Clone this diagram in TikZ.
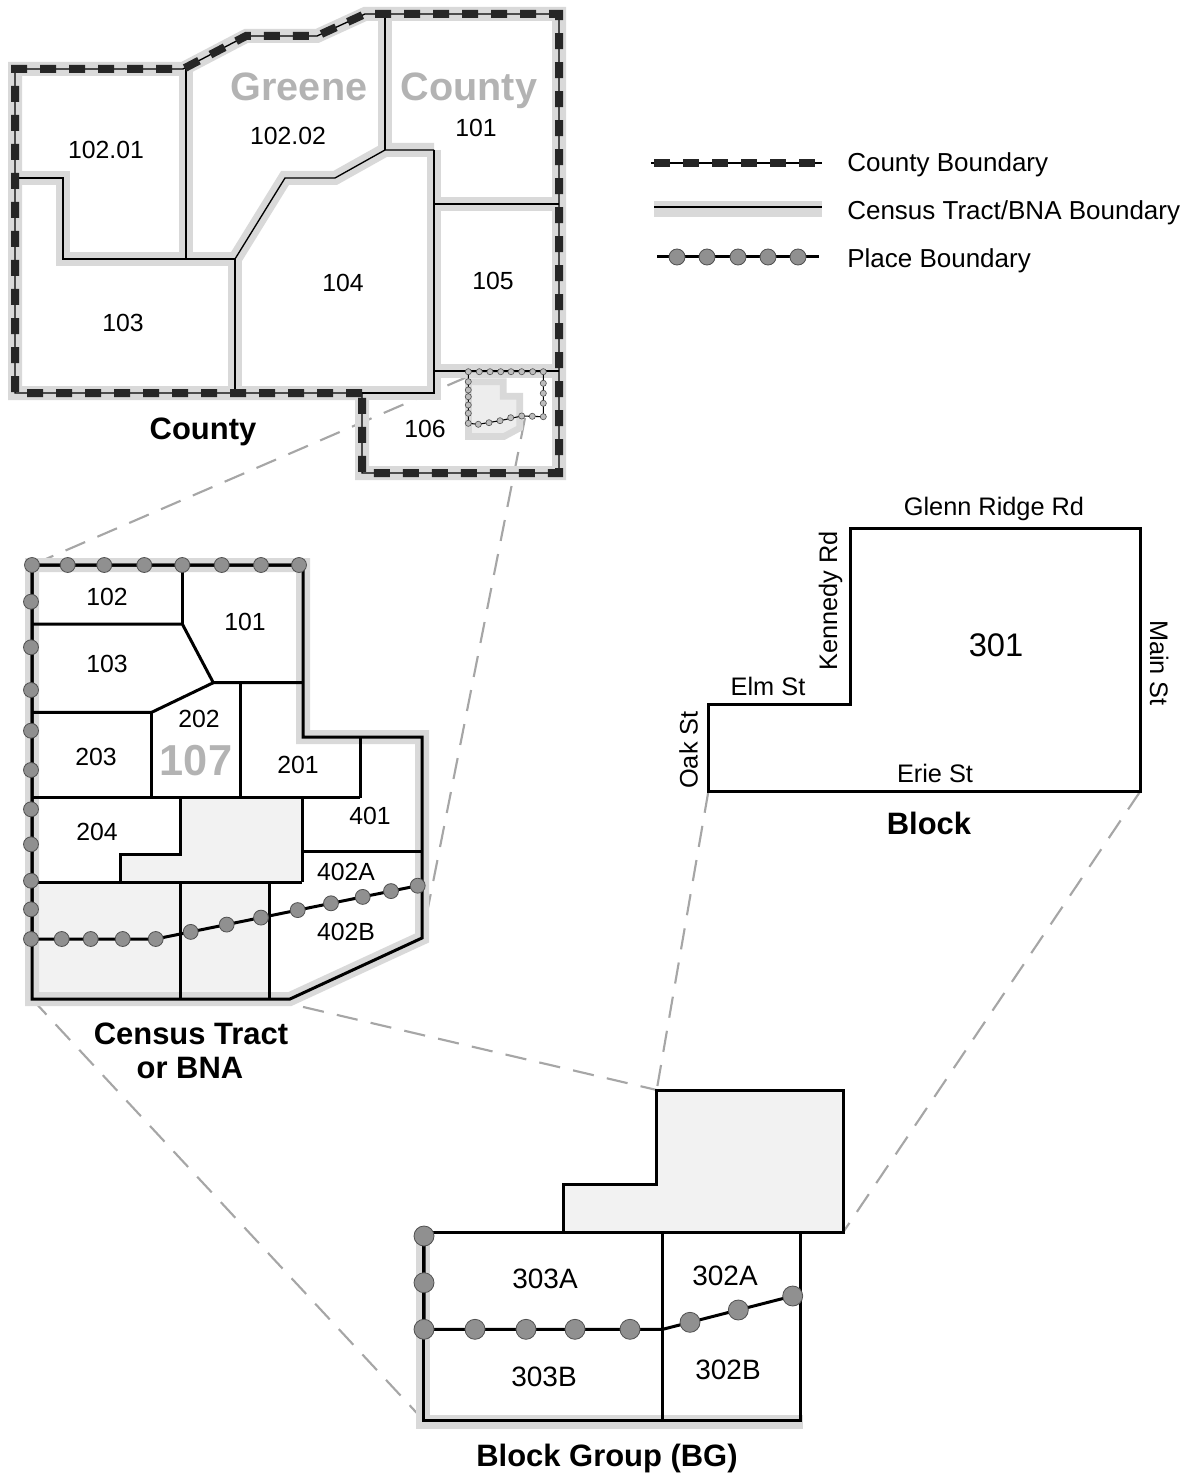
\documentclass[tikz,border=0pt]{standalone}
\usepackage{fontspec}
\setmainfont{Liberation Sans}
\definecolor{bandgray}{HTML}{D9D9D9}
\definecolor{lightfill}{HTML}{F2F2F2}
\definecolor{lfill}{HTML}{EDEDED}
\definecolor{titlegray}{HTML}{B3B3B3}
\definecolor{zoomgray}{HTML}{A6A6A6}
\definecolor{cdashcol}{HTML}{262626}
\definecolor{dotgray}{HTML}{909090}
\definecolor{dotedge}{HTML}{505050}
\definecolor{sdotgray}{HTML}{BDBDBD}
\newcommand\setfs[1]{\fontsize{#1}{#1}\selectfont}
\tikzset{
  band/.style={draw=bandgray, line width=10.5pt, line join=miter},
  thinb/.style={draw=black, line width=1pt},
  thickb/.style={draw=black, line width=2.25pt},
  cdash/.style={draw=cdashcol, line width=6pt, dash pattern=on 12pt off 9.75pt},
  zoomline/.style={draw=zoomgray, line width=1.6pt, dash pattern=on 16pt off 10pt},
  pdot/.style={fill=dotgray, draw=dotedge, line width=0.6pt},
  sdot/.style={fill=sdotgray, draw=dotedge, line width=0.45pt},
  lbl/.style={inner sep=0pt, font=\setfs{18.6}},
  bglbl/.style={inner sep=0pt, font=\setfs{21}},
  street/.style={inner sep=0pt, font=\setfs{19}},
  bigl/.style={inner sep=0pt, font=\bfseries\setfs{23.2}},
  gtitle/.style={inner sep=0pt, text=titlegray, font=\bfseries\setfs{29.7}},
  legl/.style={inner sep=0pt, anchor=base west, font=\setfs{19.5}}
}
\begin{document}
\begin{tikzpicture}[x=0.75pt,y=-0.75pt]
\useasboundingbox (0,0) rectangle (1195,1476);

% ---------- named end points of the zoom connectors ----------
\coordinate (cplA) at (467,377);
\coordinate (cplB) at (525,418);
\coordinate (trTL) at (32,565);
\coordinate (trR) at (422,938);
\coordinate (trBL) at (32,999);
\coordinate (trBR) at (269.3,999);
\coordinate (bgBL) at (423.3,1420);
\coordinate (bgTL) at (656.7,1090);
\coordinate (bgR) at (843.3,1232);
\coordinate (blBL) at (708.3,791.7);
\coordinate (blBR) at (1140,791.7);

\draw[zoomline] (cplA) -- (trTL);
\draw[zoomline] (cplB) -- (trR);
\draw[zoomline] (trBL) -- (bgBL);
\draw[zoomline] (trBR) -- (bgTL);
\draw[zoomline] (blBL) -- (bgTL);
\draw[zoomline] (blBR) -- (bgR);

% ================= COUNTY =================
\draw[band] (362,393) -- (15,393) -- (15,69) -- (183,69) -- (246,36) -- (317,36) -- (365,14) -- (559,14) -- (559,473) -- (362,473) -- cycle;
\draw[band] (15,178) -- (63,178) -- (63,259) -- (235,259);
\draw[band] (186,69) -- (186,259);
\draw[band] (235,259) -- (235,393);
\draw[band] (235,259) -- (285,178) -- (335,178) -- (385,150) -- (434,150);
\draw[band] (385,14) -- (385,150);
\draw[band] (434,150) -- (434,393) -- (362,393);
\draw[band] (434,204) -- (559,204);
\draw[band] (434,371) -- (559,371);
% place highlight shape
\filldraw[draw=bandgray, fill=lfill, line width=5pt, line join=miter]
  (468.5,381.8) -- (503.2,381.8) -- (503.2,396.2) -- (519.8,396.2) -- (519.8,428) -- (504,436.5) -- (468.5,436.5) -- cycle;
% tract lines
\draw[thinb] (15,178) -- (63,178) -- (63,259) -- (235,259);
\draw[thinb] (186,69) -- (186,259);
\draw[thinb] (235,259) -- (235,393);
\draw[thinb] (235,259) -- (285,178) -- (335,178) -- (385,150) -- (434,150);
\draw[thinb] (385,14) -- (385,150);
\draw[thinb] (434,150) -- (434,393) -- (362,393);
\draw[thinb] (434,204) -- (559,204);
\draw[thinb] (434,371) -- (559,371);
% county boundary
\draw[thinb] (362,393) -- (15,393) -- (15,69) -- (183,69) -- (246,36) -- (317,36) -- (365,14) -- (559,14) -- (559,473) -- (362,473) -- cycle;
\draw[cdash] (362,393) -- (15,393) -- (15,69) -- (183,69) -- (246,36) -- (317,36) -- (365,14) -- (559,14) -- (559,473) -- (362,473) -- cycle;
% small place boundary
\draw[black, line width=0.8pt] (468.3,371.7) -- (543.3,371.7) -- (543.3,416.7) -- (521.7,416) -- (500,420.7) -- (478.3,424.3) -- (468.3,423.3) -- cycle;
\foreach \x in {468.3,479.3,490,500.7,511,521.7,532.7,543.3} \filldraw[sdot] (\x,371.7) circle[radius=2.3pt];
\foreach \y in {383.3,393.3,403.3,416.7} \filldraw[sdot] (543.3,\y) circle[radius=2.3pt];
\foreach \x/\y in {532.3/416.3,521.7/416,510.7/417.7,500/420.7,489/422.7,478.3/424.3,468.3/423.3} \filldraw[sdot] (\x,\y) circle[radius=2.3pt];
\foreach \y in {381.7,390,396.7,405,413.3} \filldraw[sdot] (468.3,\y) circle[radius=2.3pt];
% county labels
\node[gtitle, anchor=base] (greene) at (299,101) {Greene};
\node[gtitle, anchor=base] (countyt) at (469,101) {County};
\node[lbl] (c10201) at (106,150) {102.01};
\node[lbl] (c10202) at (288,136) {102.02};
\node[lbl] (c101) at (476,128) {101};
\node[lbl] (c103) at (123,323) {103};
\node[lbl] (c104) at (343,283) {104};
\node[lbl] (c105) at (493,281) {105};
\node[lbl] (c106) at (425,429) {106};
\node[bigl, anchor=base] (lcounty) at (203,439) {County};

% ================= LEGEND =================
\draw[thinb] (651,163) -- (822,163);
\draw[draw=cdashcol, line width=6pt, dash pattern=on 12pt off 9.75pt, dash phase=-2.25pt] (651,163) -- (816,163);
\draw[draw=bandgray, line width=12pt] (654,209) -- (822,209);
\draw[thinb] (654,207) -- (822,207);
\draw[black, line width=2.25pt] (657,257) -- (819,257);
\foreach \x in {677,707,738,768,798} \filldraw[pdot] (\x,257) circle[radius=6pt];
\node[legl] (lg1) at (847,172) {County Boundary};
\node[legl] (lg2) at (847,219.5) {Census Tract/BNA Boundary};
\node[legl] (lg3) at (847,267.5) {Place Boundary};

% ================= CENSUS TRACT =================
\fill[lightfill] (180,797.7) -- (302.3,797.7) -- (302.3,882.3) -- (120.7,882.3) -- (120.7,854) -- (180,854) -- cycle;
\fill[lightfill] (32,882.3) rectangle (269.3,999);
\draw[band] (32,565) -- (303,565) -- (303,737) -- (422,737) -- (422,938) -- (290,999) -- (32,999) -- cycle;
\draw[thickb, line join=miter] (32,565) -- (303,565) -- (303,737) -- (422,737) -- (422,938) -- (290,999) -- (32,999) -- cycle;
\draw[thickb] (182.3,565) -- (182.3,624);
\draw[thickb] (32,624) -- (182.3,624) -- (213.3,682.7) -- (303,682.7);
\draw[thickb] (213.3,682.7) -- (151.7,712.3) -- (32,712.3);
\draw[thickb] (151.7,712.3) -- (151.7,797.7);
\draw[thickb] (240.7,682.7) -- (240.7,797.7);
\draw[thickb] (360,737) -- (360,797.7);
\draw[thickb] (32,797.7) -- (360,797.7);
\draw[thickb] (120.7,882.3) -- (120.7,854) -- (180,854) -- (180,797.7);
\draw[thickb] (302.3,797.7) -- (302.3,882.3);
\draw[thickb] (32,882.3) -- (302.3,882.3);
\draw[thickb] (302.3,851.7) -- (422,851.7);
\draw[thickb] (180,882.3) -- (180,999);
\draw[thickb] (269.3,882.3) -- (269.3,999);
% place boundary
\draw[black, line width=2.25pt] (299,565) -- (32,565) -- (32,939) -- (155.7,939) -- (417.7,885.7);
\foreach \x in {32,67.7,104.3,144.3,182.3,221.7,261,299} \filldraw[pdot] (\x,565) circle[radius=5.6pt];
\foreach \y in {601.7,647.3,690,730.7,770,809.3,844.3,880.7,909.3,939} \filldraw[pdot] (31,\y) circle[radius=5.6pt];
\foreach \x in {61.7,90.7,122.7,155.7} \filldraw[pdot] (\x,939) circle[radius=5.6pt];
\foreach \x/\y in {190.7/931.9,226.7/924.6,261/917.6,297.7/910.1,331/903.3,362.7/896.9,391/891.1,417.7/885.7} \filldraw[pdot] (\x,\y) circle[radius=5.6pt];
% tract labels
\node[lbl] (t102) at (107,597) {102};
\node[lbl] (t101) at (245,622) {101};
\node[lbl] (t103) at (107,664) {103};
\node[lbl] (t202) at (199,719) {202};
\node[inner sep=0pt, text=titlegray, font=\bfseries\setfs{32.5}] (t107) at (196,761) {107};
\node[lbl] (t203) at (96,757) {203};
\node[lbl] (t201) at (298,765) {201};
\node[lbl] (t401) at (370,816) {401};
\node[lbl] (t204) at (97,832) {204};
\node[lbl] (t402a) at (346,872) {402A};
\node[lbl] (t402b) at (346,932) {402B};
\node[bigl, anchor=base] (lct1) at (191,1044) {Census Tract};
\node[bigl, anchor=base] (lct2) at (190,1078) {or BNA};

% ================= BLOCK =================
\draw[thickb, line join=miter] (blBL) -- (708.3,704) -- (850.7,704) -- (850.7,528.3) -- (1140,528.3) -- (blBR) -- cycle;
\node[street, anchor=base] (sglenn) at (994,515) {Glenn Ridge Rd};
\node[street, anchor=base, rotate=90] (skenn) at (837,601) {Kennedy Rd};
\node[inner sep=0pt, font=\setfs{24.5}] (b301) at (996,645) {301};
\node[street, anchor=base, rotate=-90] (smain) at (1150,663) {Main St};
\node[street, anchor=base] (selm) at (768,695) {Elm St};
\node[street, anchor=base, rotate=90] (soak) at (697.5,750) {Oak St};
\node[street, anchor=base] (serie) at (935,782) {Erie St};
\node[bigl, anchor=base] (lblock) at (929,834) {Block};

% ================= BLOCK GROUP =================
\draw[band, line join=miter] (423,1240) -- (423,1422) -- (803,1422);
\filldraw[fill=lightfill, thickb, line join=miter] (bgTL) -- (843.3,1090) -- (bgR) -- (563.3,1232) -- (563.3,1184) -- (656.7,1184) -- cycle;
\draw[thickb, line join=miter] (423.3,1232) rectangle (800,1420);
\draw[thickb] (662.7,1232) -- (662.7,1420);
\draw[black, line width=2.25pt] (424,1236) -- (424,1329.3) -- (662.7,1329.3) -- (792.7,1296);
\foreach \x/\y in {424/1236,424/1282.7,424/1329.3,475/1329.3,526/1329.3,575/1329.3,630/1329.3,690/1322.3,738.3/1310,792.7/1296} \filldraw[pdot] (\x,\y) circle[radius=7.5pt];
\node[bglbl] (g303a) at (545,1279) {303A};
\node[bglbl] (g303b) at (544,1377) {303B};
\node[bglbl] (g302a) at (725,1276) {302A};
\node[bglbl] (g302b) at (728,1370) {302B};
\node[bigl, anchor=base] (lbg) at (607,1466) {Block Group (BG)};
\end{tikzpicture}
\end{document}
